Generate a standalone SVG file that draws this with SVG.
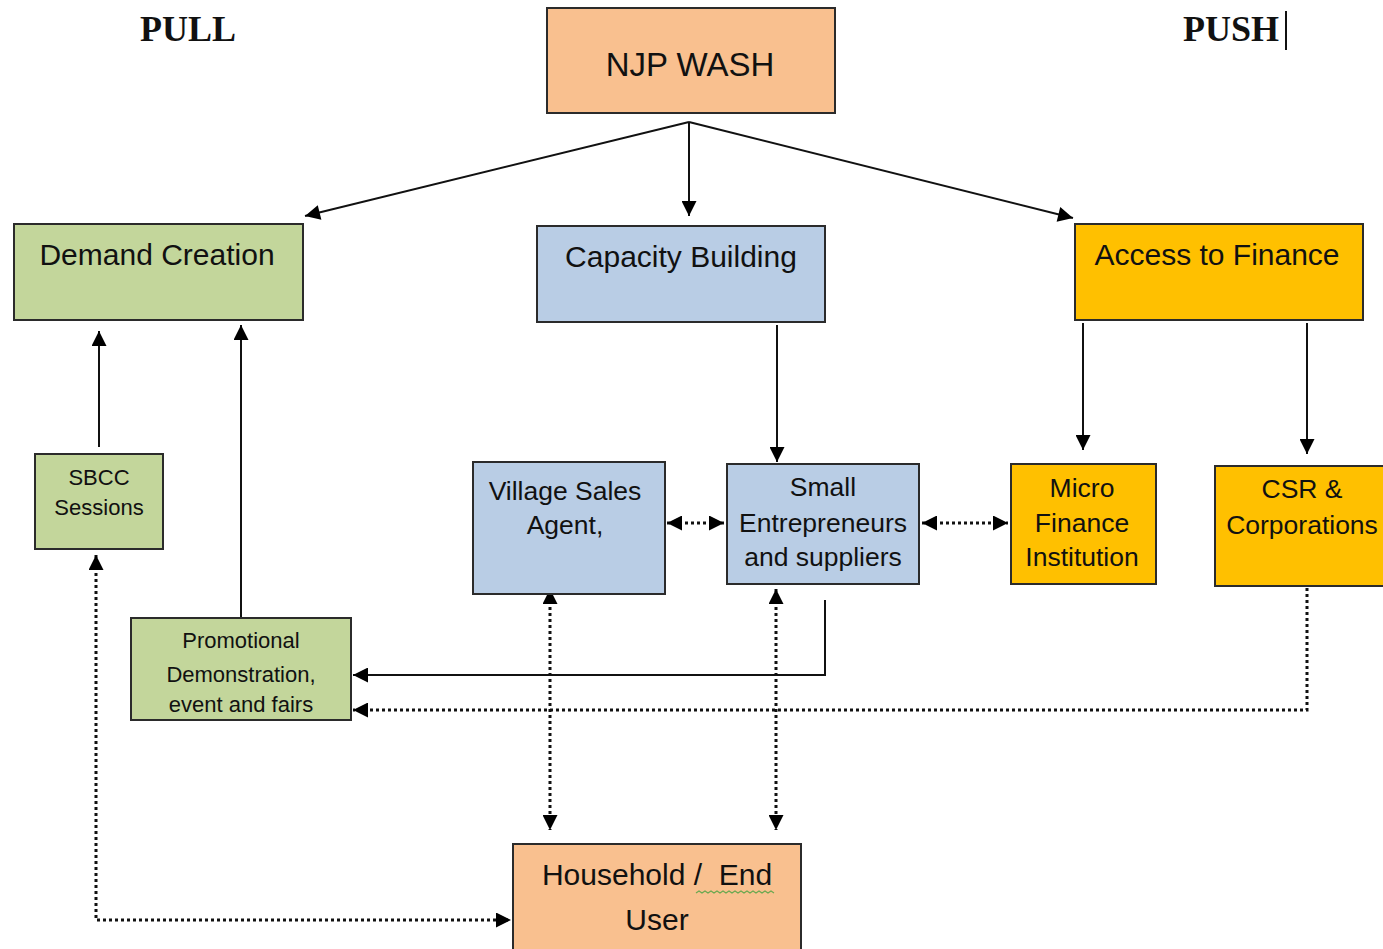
<svg xmlns="http://www.w3.org/2000/svg" width="1383" height="949" viewBox="0 0 1383 949">
<defs>
<marker id="ah" viewBox="0 0 10 10" refX="10" refY="5" markerWidth="8" markerHeight="7.5" markerUnits="strokeWidth" orient="auto-start-reverse">
<path d="M0,0 L10,5 L0,10 z" fill="#000"/>
</marker>
<marker id="ahd" viewBox="0 0 10 10" refX="10" refY="5" markerWidth="5.2" markerHeight="5" markerUnits="strokeWidth" orient="auto-start-reverse">
<path d="M0,0 L10,5 L0,10 z" fill="#000"/>
</marker>
</defs>
<style>
.box{stroke:#2b2b2b;stroke-width:2}
.peach{fill:#F9C08F}
.green{fill:#C3D69B}
.blue{fill:#B9CDE5}
.gold{fill:#FFC000}
.t{font-family:"Liberation Sans",Arial,sans-serif;fill:#111;text-anchor:middle}
.big{font-size:30px}
.mid{font-size:26.5px}
.sm{font-size:22px}
.hdr{font-family:"Liberation Serif","Times New Roman",serif;font-weight:bold;font-size:36px;fill:#111}
.ln{fill:none;stroke:#111;stroke-width:2}
.dot{fill:none;stroke:#111;stroke-width:3;stroke-dasharray:3 3}
</style>
<rect width="1383" height="949" fill="#fff"/>
<g id="headers">
<text class="hdr" x="140" y="41">PULL</text>
<text class="hdr" x="1183" y="41">PUSH</text>
<line x1="1286" y1="11" x2="1286" y2="50" stroke="#111" stroke-width="2"/>
</g>
<g id="connectors">
<line class="ln" x1="689" y1="122" x2="305" y2="216" marker-end="url(#ah)"/>
<line class="ln" x1="689" y1="122" x2="689" y2="216" marker-end="url(#ah)"/>
<line class="ln" x1="689" y1="122" x2="1073" y2="218" marker-end="url(#ah)"/>
<line class="ln" x1="99" y1="447" x2="99" y2="331" marker-end="url(#ah)"/>
<line class="ln" x1="241" y1="617" x2="241" y2="325" marker-end="url(#ah)"/>
<line class="ln" x1="777" y1="325" x2="777" y2="462" marker-end="url(#ah)"/>
<line class="ln" x1="1083" y1="323" x2="1083" y2="450" marker-end="url(#ah)"/>
<line class="ln" x1="1307" y1="323" x2="1307" y2="454" marker-end="url(#ah)"/>
<polyline class="ln" points="825,600 825,675 353,675" marker-end="url(#ah)"/>
<polyline class="dot" points="1307,582 1307,710 353,710" marker-end="url(#ahd)"/>
<line class="dot" x1="667" y1="523" x2="724" y2="523" marker-start="url(#ahd)" marker-end="url(#ahd)"/>
<line class="dot" x1="922" y1="523" x2="1008" y2="523" marker-start="url(#ahd)" marker-end="url(#ahd)"/>
<line class="dot" x1="550" y1="589" x2="550" y2="830" marker-start="url(#ahd)" marker-end="url(#ahd)"/>
<line class="dot" x1="776" y1="589" x2="776" y2="830" marker-start="url(#ahd)" marker-end="url(#ahd)"/>
<polyline class="dot" points="96,555 96,920 511,920" marker-start="url(#ahd)" marker-end="url(#ahd)"/>
</g>
<g id="njp">
<rect class="box peach" x="547" y="8" width="288" height="105"/>
<text class="t" x="690" y="76" font-size="33">NJP WASH</text>
</g>
<g id="demand">
<rect class="box green" x="14" y="224" width="289" height="96"/>
<text class="t big" x="157" y="265">Demand Creation</text>
</g>
<g id="capacity">
<rect class="box blue" x="537" y="226" width="288" height="96"/>
<text class="t big" x="681" y="267">Capacity Building</text>
</g>
<g id="finance">
<rect class="box gold" x="1075" y="224" width="288" height="96"/>
<text class="t big" x="1217" y="265">Access to Finance</text>
</g>
<g id="sbcc">
<rect class="box green" x="35" y="454" width="128" height="95"/>
<text class="t sm" x="99" y="485">SBCC</text>
<text class="t sm" x="99" y="515">Sessions</text>
</g>
<g id="promo">
<rect class="box green" x="131" y="618" width="220" height="102"/>
<text class="t sm" x="241" y="648">Promotional</text>
<text class="t sm" x="241" y="682">Demonstration,</text>
<text class="t sm" x="241" y="712">event and fairs</text>
</g>
<g id="village">
<rect class="box blue" x="473" y="462" width="192" height="132"/>
<text class="t mid" x="565" y="500">Village Sales</text>
<text class="t mid" x="565" y="534">Agent,</text>
</g>
<g id="small">
<rect class="box blue" x="727" y="464" width="192" height="120"/>
<text class="t mid" x="823" y="496">Small</text>
<text class="t mid" x="823" y="532">Entrepreneurs</text>
<text class="t mid" x="823" y="566">and suppliers</text>
</g>
<g id="micro">
<rect class="box gold" x="1011" y="464" width="145" height="120"/>
<text class="t mid" x="1082" y="497">Micro</text>
<text class="t mid" x="1082" y="532">Finance</text>
<text class="t mid" x="1082" y="566">Institution</text>
</g>
<g id="csr">
<rect class="box gold" x="1215" y="466" width="180" height="120"/>
<text class="t mid" x="1302" y="498">CSR &amp;</text>
<text class="t mid" x="1302" y="534">Corporations</text>
</g>
<g id="household">
<rect class="box peach" x="513" y="844" width="288" height="110"/>
<text class="t big" x="657" y="885">Household /&#160; End</text>
<text class="t big" x="657" y="930">User</text>
<path d="M696,893 l3,-2 l3,2 l3,-2 l3,2 l3,-2 l3,2 l3,-2 l3,2 l3,-2 l3,2 l3,-2 l3,2 l3,-2 l3,2 l3,-2 l3,2 l3,-2 l3,2 l3,-2 l3,2 l3,-2 l3,2 l3,-2 l3,2 l3,-2 l3,2" fill="none" stroke="#6aa84f" stroke-width="1.2"/>
</g>
</svg>
